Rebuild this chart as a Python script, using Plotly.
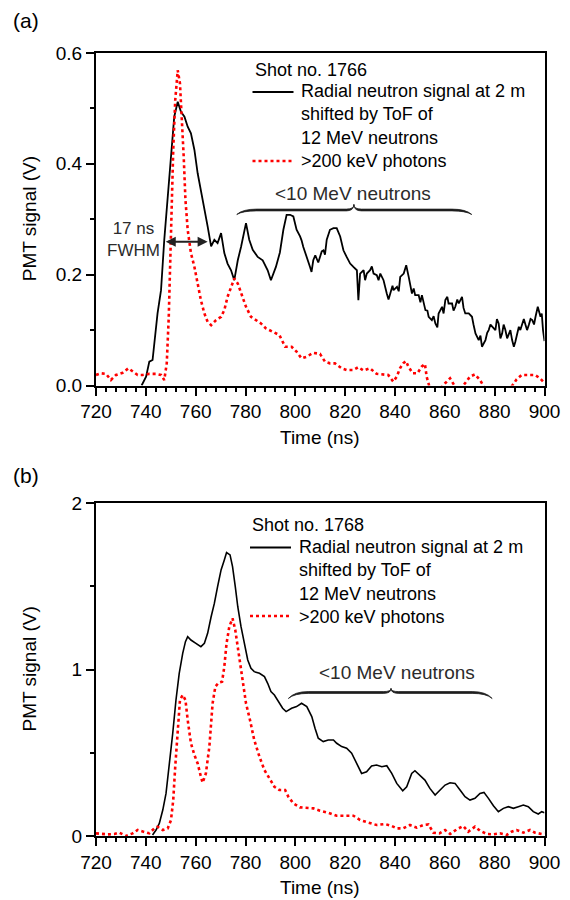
import plotly.graph_objects as go

# ---------------- data: panel (a), shot no. 1766 ----------------
time_a_neutron = [738.3, 740.1, 741.4, 742.7, 744.7, 746.1, 747.4, 748.8, 750.1, 751.4,
                  752.8, 754.1, 755.5, 756.8, 758.1, 759.5, 760.8, 762.1, 763.5, 764.8,
                  766.2, 767.5, 768.8, 770.2, 771.5, 772.8, 774.2, 775.5, 776.9, 778.2,
                  780.2, 781.5, 782.9, 784.9, 786.9, 788.9, 790.2, 792.2, 793.8, 795.2,
                  796.5, 797.9, 799.2, 800.5, 801.9, 802.5, 803.2, 804.6, 805.2, 805.9,
                  806.5, 807.2, 808.0, 808.6, 809.2, 809.9, 810.6, 811.3, 811.9, 812.6,
                  813.9, 815.3, 816.6, 818.0, 819.3, 820.6, 822.0, 823.3, 824.7, 825.3,
                  826.0, 827.4, 828.0, 828.7, 830.0, 830.7, 831.4, 832.7, 833.4, 834.1,
                  835.4, 836.7, 837.4, 838.1, 839.0, 839.4, 840.8, 841.5, 842.1, 843.5,
                  844.5, 845.5, 846.8, 847.5, 848.1, 849.5, 850.2, 850.8, 852.2, 853.0,
                  853.5, 854.8, 855.5, 856.2, 857.0, 857.5, 858.9, 859.5, 860.2, 861.0,
                  861.5, 862.9, 863.5, 864.2, 865.0, 865.6, 866.9, 867.5, 868.2, 869.6,
                  870.9, 871.5, 872.3, 873.6, 874.3, 874.9, 875.6, 876.3, 877.0, 877.6,
                  878.3, 879.0, 880.3, 880.9, 881.6, 882.3, 883.0, 883.6, 884.3, 885.0,
                  885.7, 886.3, 887.0, 887.7, 888.3, 889.0, 889.7, 890.3, 891.0, 891.7,
                  892.4, 893.0, 893.7, 894.4, 895.1, 895.8, 896.4, 897.3, 898.4, 898.9,
                  899.4, 900.0]
signal_a_neutron = [0.0, 0.016, 0.043, 0.046, 0.13, 0.172, 0.263, 0.347, 0.425, 0.485,
                    0.512, 0.494, 0.485, 0.467, 0.455, 0.425, 0.383, 0.353, 0.317, 0.287,
                    0.251, 0.263, 0.257, 0.275, 0.239, 0.22, 0.208, 0.19, 0.226, 0.25,
                    0.293, 0.263, 0.245, 0.232, 0.226, 0.208, 0.19, 0.214, 0.24, 0.281,
                    0.308, 0.308, 0.305, 0.281, 0.269, 0.262, 0.25, 0.232, 0.226, 0.214,
                    0.205, 0.226, 0.235, 0.229, 0.222, 0.232, 0.242, 0.244, 0.236, 0.263,
                    0.281, 0.284, 0.284, 0.269, 0.244, 0.232, 0.22, 0.214, 0.208, 0.154,
                    0.202, 0.208, 0.19, 0.202, 0.208, 0.215, 0.202, 0.199, 0.19, 0.202,
                    0.19, 0.166, 0.155, 0.166, 0.18, 0.172, 0.178, 0.17, 0.196, 0.202,
                    0.217, 0.196, 0.166, 0.175, 0.163, 0.163, 0.15, 0.163, 0.136, 0.135,
                    0.124, 0.118, 0.125, 0.112, 0.105, 0.13, 0.142, 0.13, 0.154, 0.16,
                    0.148, 0.148, 0.135, 0.142, 0.155, 0.148, 0.16, 0.14, 0.13, 0.13,
                    0.124, 0.11, 0.094, 0.082, 0.09, 0.07, 0.075, 0.082, 0.095, 0.1,
                    0.11, 0.106, 0.1, 0.12, 0.112, 0.085, 0.094, 0.11, 0.1, 0.085,
                    0.094, 0.1, 0.082, 0.07, 0.079, 0.095, 0.106, 0.1, 0.109, 0.12,
                    0.109, 0.1, 0.109, 0.12, 0.118, 0.11, 0.124, 0.142, 0.124, 0.13,
                    0.1, 0.08]
time_a_photon = [720, 722, 724, 726, 728, 730.7, 733, 734.7, 736.7, 738.7,
                 741.4, 744.1, 746.1, 747.4, 748.4, 749.2, 750.1, 751.0, 751.8, 752.8,
                 753.7, 754.5, 755.2, 755.9, 756.8, 758.1, 759.5, 760.8, 762.1, 763.5,
                 764.8, 766.2, 768.2, 770.2, 771.5, 772.8, 774.2, 775.5, 776.9, 778.2,
                 780.2, 782.2, 784.2, 786.2, 788.2, 790.9, 793.6, 795.9, 798.5, 800.5,
                 802.5, 804.6, 807.2, 809.9, 811.9, 813.9, 815.9, 818.6, 820.6, 823.3,
                 825.3, 827.3, 830.0, 832.6, 834.7, 837.3, 839.3, 840.7, 842.0, 843.3,
                 844.4, 845.4, 847.1, 849.0, 850.7, 852.0, 852.7, 853.8, 856.1, 857.8,
                 860.1, 862.1, 864.1, 866.1, 868.1, 870.1, 872.1, 874.1, 876.1, 878.8,
                 881.5, 884.2, 886.8, 888.8, 890.8, 893.5, 896.2, 898.2, 899.5]
signal_a_photon = [0.019, 0.022, 0.021, 0.01, 0.019, 0.023, 0.031, 0.026, 0.019, 0.019,
                   0.021, 0.021, 0.019, 0.01, 0.04, 0.124, 0.293, 0.425, 0.515, 0.569,
                   0.545, 0.485, 0.413, 0.335, 0.281, 0.239, 0.214, 0.184, 0.154, 0.13,
                   0.115, 0.109, 0.118, 0.124, 0.136, 0.16, 0.178, 0.193, 0.184, 0.166,
                   0.142, 0.124, 0.118, 0.112, 0.103, 0.097, 0.091, 0.07, 0.07, 0.061,
                   0.049, 0.052, 0.059, 0.057, 0.043, 0.04, 0.04, 0.031, 0.028, 0.028,
                   0.033, 0.027, 0.031, 0.021, 0.02, 0.019, 0.007, 0.016, 0.031, 0.04,
                   0.044, 0.034, 0.022, 0.022, 0.034, 0.039, 0.016, -0.002, -0.011, -0.007,
                   0.004, 0.013, -0.002, -0.008, 0.004, 0.016, 0.02, 0.01, -0.005, -0.008,
                   -0.008, -0.007, -0.002, 0.011, 0.019, 0.019, 0.019, 0.013, 0.007]

# ---------------- data: panel (b), shot no. 1768 ----------------
time_b_neutron = [742.7, 744.1, 745.4, 746.8, 748.1, 749.4, 750.8, 752.1, 753.4, 754.8,
                  755.9, 756.8, 758.1, 760.1, 762.1, 763.5, 764.8, 766.2, 767.5, 768.8,
                  770.2, 771.5, 772.4, 773.8, 774.8, 775.9, 776.9, 778.2, 779.5, 780.9,
                  782.2, 783.5, 785.6, 787.6, 788.9, 790.2, 791.6, 792.9, 794.9, 796.3,
                  798.5, 800.5, 802.5, 804.6, 806.6, 807.9, 809.2, 811.2, 813.2, 815.3,
                  816.6, 818.6, 820.6, 822.6, 824.6, 826.6, 828.6, 830.6, 832.6, 834.7,
                  836.7, 838.7, 840.7, 843.1, 844.7, 846.7, 848.0, 850.0, 852.0, 854.0,
                  856.1, 858.1, 860.1, 862.1, 864.1, 866.1, 868.1, 870.1, 872.1, 874.1,
                  875.7, 877.5, 879.5, 881.5, 883.5, 885.5, 887.5, 889.5, 891.5, 893.5,
                  895.5, 897.5, 898.9, 900.0]
signal_b_neutron = [0.006, 0.036, 0.076, 0.156, 0.256, 0.416, 0.617, 0.817, 0.977, 1.097,
                    1.167, 1.197, 1.177, 1.157, 1.137, 1.157, 1.217, 1.317, 1.397, 1.498,
                    1.598, 1.658, 1.702, 1.688, 1.618, 1.498, 1.377, 1.257, 1.157, 1.057,
                    1.007, 0.987, 0.977, 0.957, 0.917, 0.867, 0.847, 0.817, 0.767, 0.747,
                    0.767, 0.777, 0.797, 0.777, 0.717, 0.647, 0.587, 0.567, 0.577, 0.577,
                    0.557, 0.537, 0.527, 0.497, 0.436, 0.376, 0.386, 0.42, 0.426, 0.416,
                    0.422, 0.376, 0.316, 0.272, 0.296, 0.376, 0.392, 0.366, 0.336, 0.286,
                    0.246, 0.276, 0.306, 0.32, 0.316, 0.276, 0.236, 0.216, 0.226, 0.256,
                    0.262, 0.226, 0.182, 0.146, 0.166, 0.176, 0.166, 0.176, 0.186, 0.176,
                    0.146, 0.132, 0.146, 0.14]
time_b_photon = [720, 722, 724.7, 727.4, 729.4, 732, 734.7, 736.7, 739.4, 741.4,
                 743.4, 744.7, 746.8, 748.8, 750.1, 751.0, 751.8, 752.8, 753.7, 754.8,
                 755.9, 756.8, 758.1, 759.5, 760.8, 762.1, 762.8, 764.1, 765.5, 766.8,
                 767.9, 769.2, 770.6, 771.5, 772.4, 773.5, 774.8, 775.9, 777.3, 778.6,
                 780.2, 781.8, 783.5, 785.6, 787.6, 789.6, 791.6, 793.6,
                 795.9, 797.2, 799.2, 801.9, 804.6, 807.2, 809.9, 813.2, 816.6, 820.6,
                 823.3, 826.0, 829.3, 832.6, 836.0, 838.7, 840.7, 843.3, 846.0, 848.7,
                 851.4, 853.4, 855.4, 857.8, 860.1, 862.1, 864.8, 867.4, 869.4, 872.1,
                 874.1, 876.8, 879.5, 882.1, 884.8, 886.8, 888.8, 891.5, 894.2, 896.2,
                 898.9, 900.0]
signal_b_photon = [0.016, 0.012, 0.01, 0.012, 0.02, 0.0, 0.016, 0.036, 0.026, 0.016,
                   0.046, 0.056, 0.036, 0.046, 0.096, 0.216, 0.416, 0.657, 0.817, 0.847,
                   0.817, 0.697, 0.557, 0.486, 0.436, 0.356, 0.32, 0.376, 0.537, 0.797,
                   0.897, 0.921, 0.927, 1.017, 1.157, 1.257, 1.307, 1.237, 1.097, 0.957,
                   0.797, 0.697, 0.577, 0.476, 0.396, 0.346, 0.296, 0.276,
                   0.276, 0.236, 0.196, 0.172, 0.17, 0.166, 0.152, 0.14, 0.122, 0.122,
                   0.122, 0.096, 0.08, 0.066, 0.072, 0.06, 0.046, 0.046, 0.066, 0.05,
                   0.066, 0.07, 0.02, 0.016, 0.036, 0.012, 0.04, 0.06, 0.026, 0.056,
                   0.032, 0.012, 0.01, 0.016, 0.006, 0.026, 0.036, 0.02, 0.036, 0.02,
                   0.012, 0.02]

# ---------------- ticks and text ----------------
x_tick_values = [720, 740, 760, 780, 800, 820, 840, 860, 880, 900]
x_tick_labels = ["720", "740", "760", "780", "800", "820", "840", "860", "880", "900"]
y_tick_values_a = [0.0, 0.2, 0.4, 0.6]
y_tick_labels_a = ["0.0", "0.2", "0.4", "0.6"]
y_tick_values_b = [0, 1, 2]
y_tick_labels_b = ["0", "1", "2"]

neutron_label = ["Radial neutron signal at 2 m", "shifted by ToF of", "12 MeV neutrons"]
photon_label = ">200 keV photons"
shot_a = "Shot no. 1766"
shot_b = "Shot no. 1768"

# ---------------- layout geometry (pixels of the 570x900 window) ----------------
W, H = 570, 900
OFF = 8                      # default page body margin of the browser
FW, FH = W - OFF, H - OFF    # figure size that fits the window
PX0, PX1 = 96, 544.5
A_TOP, A_BOT = 53, 385.5
B_TOP, B_BOT = 503, 836
FONT = "Arial, Liberation Sans, sans-serif"


def fx(p):
    return (p - OFF) / FW


def fy(p):
    return 1 - (p - OFF) / FH


RED_W = 2.6
RED = "#ff0000"

fig = go.Figure()
fig.add_trace(go.Scatter(x=time_a_neutron, y=signal_a_neutron, mode="lines",
                         line=dict(color="black", width=1.8), xaxis="x", yaxis="y",
                         name="Radial neutron signal", showlegend=False))
fig.add_trace(go.Scatter(x=time_a_photon, y=signal_a_photon, mode="lines",
                         line=dict(color=RED, width=RED_W, dash="dot"), xaxis="x", yaxis="y",
                         name=photon_label, showlegend=False))
fig.add_trace(go.Scatter(x=time_b_neutron, y=signal_b_neutron, mode="lines",
                         line=dict(color="black", width=1.6), xaxis="x2", yaxis="y2",
                         name="Radial neutron signal", showlegend=False))
fig.add_trace(go.Scatter(x=time_b_photon, y=signal_b_photon, mode="lines",
                         line=dict(color=RED, width=RED_W, dash="dot"), xaxis="x2", yaxis="y2",
                         name=photon_label, showlegend=False))

axis_style = dict(showline=True, linecolor="black", linewidth=2, mirror=True,
                  ticks="outside", ticklen=8, tickwidth=2, tickcolor="black",
                  showgrid=False, zeroline=False, automargin=False,
                  tickfont=dict(size=19, color="black"))

fig.update_layout(
    width=FW, height=FH, margin=dict(l=0, r=0, t=0, b=0, autoexpand=False),
    paper_bgcolor="white", plot_bgcolor="white",
    font=dict(family=FONT, size=18, color="black"),
    showlegend=False,
    xaxis=dict(domain=[fx(PX0), fx(PX1)], range=[720, 900], anchor="y",
               tickmode="array", tickvals=x_tick_values, ticktext=x_tick_labels,
               minor=dict(dtick=4, tick0=720, ticks="outside", ticklen=4, tickwidth=1.5, tickcolor="black"),
               **axis_style),
    yaxis=dict(domain=[fy(A_BOT), fy(A_TOP)], range=[0, 0.6], anchor="x",
               tickmode="array", tickvals=y_tick_values_a, ticktext=y_tick_labels_a,
               minor=dict(dtick=0.1, tick0=0, ticks="outside", ticklen=4, tickwidth=1.5, tickcolor="black"),
               **axis_style),
    xaxis2=dict(domain=[fx(PX0), fx(PX1)], range=[720, 900], anchor="y2",
                tickmode="array", tickvals=x_tick_values, ticktext=x_tick_labels,
                minor=dict(dtick=4, tick0=720, ticks="outside", ticklen=4, tickwidth=1.5, tickcolor="black"),
                **axis_style),
    yaxis2=dict(domain=[fy(B_BOT), fy(B_TOP)], range=[0, 2], anchor="x2",
                tickmode="array", tickvals=y_tick_values_b, ticktext=y_tick_labels_b,
                minor=dict(dtick=0.5, tick0=0, ticks="outside", ticklen=4, tickwidth=1.5, tickcolor="black"),
                **axis_style),
)

annotations = []
shapes = []


def paper_text(text, x, y, size=18, xanchor="left", yanchor="middle", color="black", angle=0, align="left"):
    annotations.append(dict(text=text, x=fx(x), y=fy(y), xref="paper", yref="paper",
                            xanchor=xanchor, yanchor=yanchor, showarrow=False, align=align,
                            textangle=angle, font=dict(family=FONT, size=size, color=color)))


# panel letters
paper_text("(a)", 11, 20, size=21)
paper_text("(b)", 11, 476, size=21)

# axis titles
for top, bot in [(A_TOP, A_BOT), (B_TOP, B_BOT)]:
    paper_text("PMT signal (V)", 29, (top + bot) / 2, size=19, xanchor="center", angle=-90)
paper_text("Time (ns)", (PX0 + PX1) / 2, 438, size=19, xanchor="center")
paper_text("Time (ns)", (PX0 + PX1) / 2, 887, size=19, xanchor="center")

# legends (drawn as text + sample lines)
legend_cfg = [
    dict(shot=shot_a, x_line=252.5, x_text=298.5, y_title=70, y_first=92, y_last=161),
    dict(shot=shot_b, x_line=250, x_text=297, y_title=525, y_first=547.5, y_last=616),
]
for lg in legend_cfg:
    paper_text(lg["shot"], lg["x_line"], lg["y_title"])
    paper_text("<br>".join(neutron_label + [photon_label]), lg["x_text"],
               (lg["y_first"] + lg["y_last"]) / 2)
    shapes.append(dict(type="line", xref="paper", yref="paper",
                       x0=fx(lg["x_line"]), x1=fx(lg["x_line"] + 41),
                       y0=fy(lg["y_first"]), y1=fy(lg["y_first"]),
                       line=dict(color="black", width=2)))
    shapes.append(dict(type="line", xref="paper", yref="paper",
                       x0=fx(lg["x_line"]), x1=fx(lg["x_line"] + 41),
                       y0=fy(lg["y_last"]), y1=fy(lg["y_last"]),
                       line=dict(color=RED, width=RED_W, dash="dot")))

# "<10 MeV neutrons" braces (data coordinates), drawn as a tapered filled outline
ANNOT_GRAY = "#2b2b2b"
BRACE_COLOR = "#1e1e1e"
brace_cfg = [
    dict(xref="x", yref="y", x0=776.5, x1=870.8, xm=823.5, ye=0.3086, yf=0.3167, yp=0.3266,
         half=0.0016, tx=823.0, ty=0.347),
    dict(xref="x2", yref="y2", x0=797.2, x1=879.0, xm=838.4, ye=0.826, yf=0.862, yp=0.886,
         half=0.0054, tx=840.7, ty=0.983),
]
for b in brace_cfg:
    we, wp = 8.0, 3.0
    x0, x1, xm, ye, yp = b["x0"], b["x1"], b["xm"], b["ye"], b["yp"]
    yu, yl = b["yf"] + b["half"], b["yf"] - b["half"]
    p = (f"M{x0},{ye} Q{x0 + 0.3 * we},{yu} {x0 + we},{yu} "
         f"L{xm - wp},{yu} Q{xm},{yu} {xm},{yp} "
         f"Q{xm},{yu} {xm + wp},{yu} "
         f"L{x1 - we},{yu} Q{x1 - 0.3 * we},{yu} {x1},{ye} "
         f"Q{x1 - 0.3 * we},{yl} {x1 - we},{yl} "
         f"L{xm + wp},{yl} Q{xm},{yl} {xm},{yp} "
         f"Q{xm},{yl} {xm - wp},{yl} "
         f"L{x0 + we},{yl} Q{x0 + 0.3 * we},{yl} {x0},{ye} Z")
    shapes.append(dict(type="path", path=p, xref=b["xref"], yref=b["yref"],
                       fillcolor=BRACE_COLOR, line=dict(color=BRACE_COLOR, width=0.8)))
    annotations.append(dict(text="<10 MeV neutrons", x=b["tx"], y=b["ty"], xref=b["xref"],
                            yref=b["yref"], showarrow=False, xanchor="center", yanchor="middle",
                            font=dict(family=FONT, size=19, color=ANNOT_GRAY)))

# FWHM marker in panel (a)
FWHM_LEFT, FWHM_RIGHT, FWHM_LEVEL = 747.4, 764.8, 0.2595
annotations.append(dict(x=FWHM_RIGHT, y=FWHM_LEVEL, ax=FWHM_LEFT, ay=FWHM_LEVEL,
                        xref="x", yref="y", axref="x", ayref="y", text="",
                        showarrow=True, arrowhead=2, arrowside="end+start",
                        arrowsize=1, arrowwidth=2, arrowcolor="#222222"))
paper_text("17 ns<br>FWHM", 133, 239, size=17, xanchor="center", color=ANNOT_GRAY, align="center")

fig.update_layout(annotations=annotations, shapes=shapes)
fig.write_html("out.html")
